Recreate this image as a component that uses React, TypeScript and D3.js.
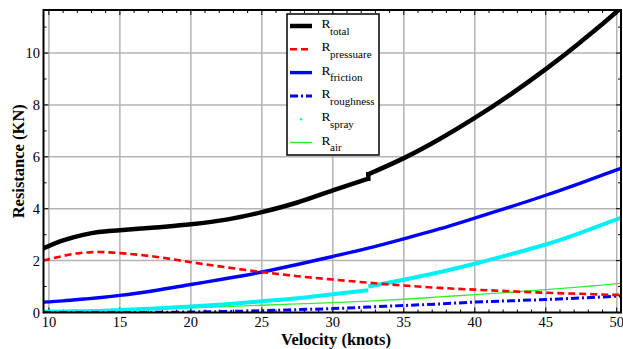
import React from "react";
import * as d3 from "d3";

// Velocity (knots) sample points
const VELOCITY = [9.6, 11, 12.5, 13.5, 15, 17.5, 20, 22.5, 25, 27.5, 30, 32.5, 35, 37.5, 40, 42.5, 45, 47.5, 50, 50.3];
const R_PRESSURE = [2.0, 2.18, 2.31, 2.33, 2.29, 2.15, 1.94, 1.74, 1.56, 1.4, 1.27, 1.15, 1.04, 0.95, 0.88, 0.82, 0.76, 0.72, 0.68, 0.68];
const R_FRICTION = [0.4, 0.45, 0.52, 0.57, 0.66, 0.85, 1.08, 1.31, 1.56, 1.85, 2.16, 2.48, 2.84, 3.22, 3.64, 4.07, 4.52, 5.0, 5.5, 5.56];
const R_ROUGHNESS = [0, 0, 0, 0, 0, 0.005, 0.02, 0.04, 0.07, 0.11, 0.15, 0.21, 0.27, 0.33, 0.4, 0.45, 0.5, 0.56, 0.63, 0.64];
const R_AIR = [0.04, 0.05, 0.07, 0.08, 0.1, 0.14, 0.18, 0.23, 0.28, 0.33, 0.38, 0.44, 0.51, 0.6, 0.69, 0.78, 0.88, 0.99, 1.11, 1.13];

// Series with a step at 32.5 knots: two segments each
const VEL_LOW = [9.6, 11, 12.5, 13.5, 15, 17.5, 20, 22.5, 25, 27.5, 30, 32.5];
const VEL_HIGH = [32.5, 35, 37.5, 40, 42.5, 45, 47.5, 50, 50.3];
const R_TOTAL_LOW = [2.47, 2.78, 3.0, 3.1, 3.17, 3.28, 3.4, 3.58, 3.87, 4.24, 4.71, 5.16];
const R_TOTAL_HIGH = [5.33, 5.95, 6.68, 7.5, 8.4, 9.38, 10.45, 11.6, 11.75];
const R_SPRAY_LOW = [0.03, 0.04, 0.05, 0.06, 0.09, 0.15, 0.23, 0.32, 0.43, 0.55, 0.7, 0.86];
const R_SPRAY_HIGH = [1.0, 1.26, 1.55, 1.88, 2.24, 2.62, 3.08, 3.59, 3.65];

const X_TICKS = [10, 15, 20, 25, 30, 35, 40, 45, 50];
const Y_TICKS = [0, 2, 4, 6, 8, 10];
const X_MINOR = d3.range(10, 51, 1);
const Y_MINOR = d3.range(0, 12, 1);

const LEGEND_LABELS = ["total", "pressuare", "friction", "roughness", "spray", "air"];

const M = { left: 43.5, right: 621, top: 10, bottom: 312.5 };
const FONT = "Liberation Serif, Times New Roman, DejaVu Serif, serif";

export default function App() {
  const x = d3.scaleLinear().domain([9.62, 50.3]).range([M.left, M.right]);
  const y = d3.scaleLinear().domain([0, 11.66]).range([M.bottom, M.top]);
  const line = (xs: number[], ys: number[]) =>
    d3
      .line<number>()
      .x((_, i) => x(xs[i]))
      .y((d) => y(d))
      .curve(d3.curveMonotoneX)(ys) || "";
  const step = (xs1: number[], ys1: number[], ys2: number[]) =>
    d3.line<[number, number]>()([
      [x(xs1[xs1.length - 1]), y(ys1[ys1.length - 1])],
      [x(xs1[xs1.length - 1]), y(ys2[0])],
    ]) || "";

  const styles = [
    { color: "#000000", width: 4.5, dash: "" },
    { color: "#ff0000", width: 2.6, dash: "7,4" },
    { color: "#0000ff", width: 3.4, dash: "" },
    { color: "#0000ff", width: 3, dash: "8,3,2,3" },
    { color: "#00f0f8", width: 4, dash: "" },
    { color: "#33ee33", width: 1.3, dash: "" },
  ];

  return (
    <svg
      width={623}
      height={349}
      style={{ position: "absolute", left: 0, top: 0, background: "#fff", fontFamily: FONT }}
    >
      <defs>
        <clipPath id="plot">
          <rect x={M.left} y={M.top} width={M.right - M.left} height={M.bottom - M.top} />
        </clipPath>
      </defs>
      {/* grid */}
      {X_TICKS.map((t) => (
        <line key={"gx" + t} x1={x(t)} x2={x(t)} y1={M.top} y2={M.bottom} stroke="#b4b4b4" strokeWidth={1.5} />
      ))}
      {Y_TICKS.filter((t) => t > 0).map((t) => (
        <line key={"gy" + t} x1={M.left} x2={M.right} y1={y(t)} y2={y(t)} stroke="#b4b4b4" strokeWidth={1.5} />
      ))}
      {/* minor / major ticks inward */}
      {X_MINOR.map((t) => {
        const len = t % 5 === 0 ? 5 : 3;
        return (
          <g key={"tx" + t}>
            <line x1={x(t)} x2={x(t)} y1={M.top} y2={M.top + len} stroke="#000" strokeWidth={1} />
            <line x1={x(t)} x2={x(t)} y1={M.bottom} y2={M.bottom - len} stroke="#000" strokeWidth={1} />
          </g>
        );
      })}
      {Y_MINOR.map((t) => {
        const len = t % 2 === 0 ? 5 : 3;
        return (
          <g key={"ty" + t}>
            <line x1={M.left} x2={M.left + len} y1={y(t)} y2={y(t)} stroke="#000" strokeWidth={1} />
            <line x1={M.right} x2={M.right - len} y1={y(t)} y2={y(t)} stroke="#000" strokeWidth={1} />
          </g>
        );
      })}
      {/* curves */}
      <g clipPath="url(#plot)" fill="none" strokeLinejoin="round">
        <path d={line(VELOCITY, R_AIR)} stroke={styles[5].color} strokeWidth={styles[5].width} />
        <path d={line(VEL_LOW, R_SPRAY_LOW)} stroke={styles[4].color} strokeWidth={styles[4].width} />
        <path d={line(VEL_HIGH, R_SPRAY_HIGH)} stroke={styles[4].color} strokeWidth={styles[4].width} />
        <path d={line(VELOCITY, R_ROUGHNESS)} stroke={styles[3].color} strokeWidth={styles[3].width} strokeDasharray={styles[3].dash} />
        <path d={line(VELOCITY, R_FRICTION)} stroke={styles[2].color} strokeWidth={styles[2].width} />
        <path d={line(VELOCITY, R_PRESSURE)} stroke={styles[1].color} strokeWidth={styles[1].width} strokeDasharray={styles[1].dash} />
        <path d={line(VEL_LOW, R_TOTAL_LOW)} stroke={styles[0].color} strokeWidth={styles[0].width} />
        <path d={step(VEL_LOW, R_TOTAL_LOW, R_TOTAL_HIGH)} stroke={styles[0].color} strokeWidth={styles[0].width} strokeLinecap="square" />
        <path d={line(VEL_HIGH, R_TOTAL_HIGH)} stroke={styles[0].color} strokeWidth={styles[0].width} />
      </g>
      {/* frame */}
      <rect x={M.left} y={M.top} width={M.right - M.left} height={M.bottom - M.top} fill="none" stroke="#000" strokeWidth={2} />
      {/* tick labels */}
      {X_TICKS.map((t) => (
        <text key={"lx" + t} x={x(t)} y={327} textAnchor="middle" fontSize={14.5}>
          {t}
        </text>
      ))}
      {Y_TICKS.map((t) => (
        <text key={"ly" + t} x={40} y={y(t) + 5} textAnchor="end" fontSize={14.5}>
          {t}
        </text>
      ))}
      {/* axis titles */}
      <text x={336} y={344.5} textAnchor="middle" fontSize={16.5} fontWeight="bold">
        Velocity (knots)
      </text>
      <text transform={`translate(24,${(M.top + M.bottom) / 2}) rotate(-90)`} textAnchor="middle" fontSize={16.5} fontWeight="bold">
        Resistance (KN)
      </text>
      {/* legend */}
      <rect x={287} y={14} width={92} height={141} fill="#fff" stroke="#000" strokeWidth={1.5} />
      {LEGEND_LABELS.map((lab, i) => {
        const cy = 26 + i * 23.3;
        const s = styles[i];
        return (
          <g key={lab}>
            {i === 4 ? (
              <circle cx={301} cy={cy} r={1.3} fill={s.color} />
            ) : (
              <line x1={290} x2={312} y1={cy} y2={cy} stroke={s.color} strokeWidth={i === 5 ? 1.5 : s.width} strokeDasharray={s.dash} />
            )}
            <text x={321.5} y={cy + 2} fontSize={13.5}>
              R
              <tspan x={330} y={cy + 8.6} fontSize={11}>
                {lab}
              </tspan>
            </text>
          </g>
        );
      })}
    </svg>
  );
}
